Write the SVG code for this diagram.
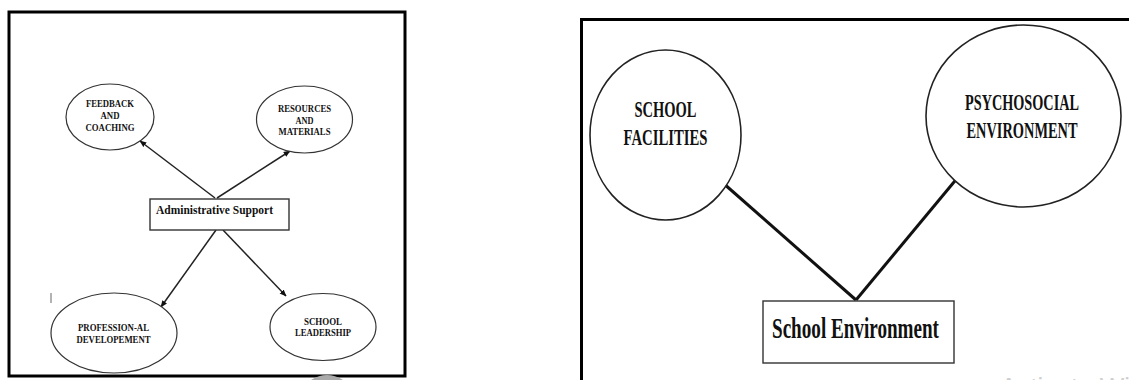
<svg xmlns="http://www.w3.org/2000/svg" width="1129" height="380" viewBox="0 0 1129 380">
<style>
.frame{fill:none;stroke:#000;stroke-width:3}
.ell{fill:#fff;stroke:#333;stroke-width:1.2}
.circ{fill:#fff;stroke:#222;stroke-width:1.6}
.box{fill:#fff;stroke:#333;stroke-width:1.4}
.t{font-family:"Liberation Serif","Times New Roman",serif;font-weight:bold;fill:#111;text-anchor:middle}
.s{font-size:11px}
.m{font-size:12px}
.l{font-size:24px}
.xl{font-size:30px}
.arrow{stroke:#222;stroke-width:1.5;fill:none;marker-end:url(#ah)}
.bar{stroke:#111;stroke-width:3;fill:none}
</style>
<defs>
<marker id="ah" viewBox="0 0 10 10" refX="9" refY="5" markerWidth="7" markerHeight="7" markerUnits="userSpaceOnUse" orient="auto">
<path d="M0,1 L10,5 L0,9 Z" fill="#111"/>
</marker>
</defs>
<rect width="1129" height="380" fill="#fff"/>

<!-- left panel -->
<rect class="frame" x="9" y="12" width="396" height="364"/>
<line x1="51" y1="293" x2="51" y2="303" stroke="#666" stroke-width="1"/>
<path d="M311,380 Q327,370 343,380 Z" fill="#aaa"/>

<g id="connectors">
<line class="arrow" x1="215" y1="198" x2="140" y2="141"/>
<line class="arrow" x1="217" y1="198" x2="290" y2="151"/>
<line class="arrow" x1="216" y1="230" x2="161" y2="307"/>
<line class="arrow" x1="223" y1="230" x2="286" y2="296"/>
<line class="bar" x1="723" y1="183" x2="856" y2="300"/>
<line class="bar" x1="959" y1="176" x2="856" y2="300"/>
</g>

<g id="feedback">
<ellipse class="ell" cx="110" cy="117" rx="44" ry="33"/>
<text class="t s" x="110" y="107" textLength="48" lengthAdjust="spacingAndGlyphs">FEEDBACK</text>
<text class="t s" x="110" y="119" textLength="19" lengthAdjust="spacingAndGlyphs">AND</text>
<text class="t s" x="110" y="131" textLength="49" lengthAdjust="spacingAndGlyphs">COACHING</text>
</g>
<g id="resources">
<ellipse class="ell" cx="304.5" cy="119.5" rx="48" ry="33.5"/>
<text class="t s" x="304.5" y="112" textLength="53" lengthAdjust="spacingAndGlyphs">RESOURCES</text>
<text class="t s" x="304.5" y="123.5" textLength="18" lengthAdjust="spacingAndGlyphs">AND</text>
<text class="t s" x="304.5" y="135" textLength="52" lengthAdjust="spacingAndGlyphs">MATERIALS</text>
</g>
<g id="admin">
<rect class="box" x="150" y="199" width="139" height="31"/>
<text class="t m" x="214.5" y="214" textLength="117" lengthAdjust="spacingAndGlyphs">Administrative Support</text>
</g>
<g id="professional">
<ellipse class="ell" cx="114" cy="333" rx="63" ry="40"/>
<text class="t s" x="113.5" y="331" textLength="71" lengthAdjust="spacingAndGlyphs">PROFESSION-AL</text>
<text class="t s" x="113.5" y="342.5" textLength="74" lengthAdjust="spacingAndGlyphs">DEVELOPEMENT</text>
</g>
<g id="leadership">
<ellipse class="ell" cx="323" cy="327" rx="53" ry="33.5"/>
<text class="t s" x="323" y="325" textLength="38" lengthAdjust="spacingAndGlyphs">SCHOOL</text>
<text class="t s" x="323" y="336" textLength="56" lengthAdjust="spacingAndGlyphs">LEADERSHIP</text>
</g>

<!-- right panel -->
<path class="frame" d="M581.5,380 V19.5 H1129"/>
<g id="facilities">
<ellipse class="circ" cx="665.5" cy="135" rx="75.5" ry="85"/>
<text class="t l" x="665.5" y="117" textLength="62" lengthAdjust="spacingAndGlyphs">SCHOOL</text>
<text class="t l" x="665.5" y="145" textLength="84" lengthAdjust="spacingAndGlyphs">FACILITIES</text>
</g>
<g id="psychosocial">
<ellipse class="circ" cx="1023.5" cy="116" rx="97.5" ry="91"/>
<text class="t l" x="1022" y="110" textLength="114" lengthAdjust="spacingAndGlyphs">PSYCHOSOCIAL</text>
<text class="t l" x="1022" y="137.5" textLength="111" lengthAdjust="spacingAndGlyphs">ENVIRONMENT</text>
</g>
<g id="school-environment">
<rect class="box" x="763" y="301" width="191" height="62"/>
<text class="t xl" x="855.5" y="338" textLength="167" lengthAdjust="spacingAndGlyphs">School Environment</text>
</g>
<text x="1000" y="396" font-family="'Liberation Sans',Arial,sans-serif" font-size="26" fill="#cfcfcf">Activate Windows</text>
</svg>
